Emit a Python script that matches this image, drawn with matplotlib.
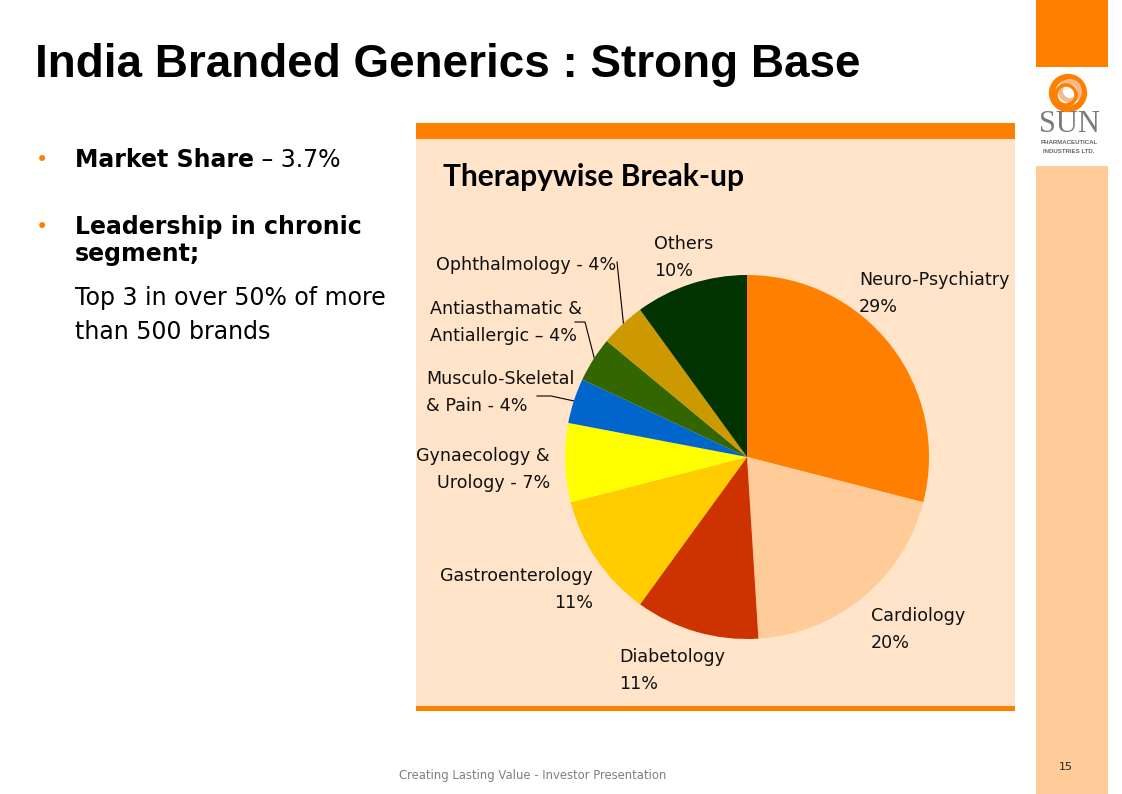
import matplotlib
matplotlib.use("Agg")
import matplotlib.pyplot as plt
from matplotlib.patches import Rectangle, Circle
import matplotlib.transforms as mtrans
import numpy as np

# ---------------- data ----------------
categories = ["Neuro-Psychiatry", "Cardiology", "Diabetology", "Gastroenterology",
              "Gynaecology & Urology", "Musculo-Skeletal & Pain",
              "Antiasthamatic & Antiallergic", "Ophthalmology", "Others"]
shares = [29, 20, 11, 11, 7, 4, 4, 4, 10]
colors = ["#FF8000", "#FFCC99", "#CC3300", "#FFCC00", "#FFFF00",
          "#0066CC", "#336600", "#CC9900", "#003300"]
label_texts = ["Neuro-Psychiatry\n29%", "Cardiology\n20%", "Diabetology\n11%",
               "Gastroenterology\n11%", "Gynaecology &\nUrology - 7%",
               "Musculo-Skeletal\n& Pain - 4%", "Antiasthamatic &\nAntiallergic \u2013 4%",
               "Ophthalmology - 4%", "Others\n10%"]
title = "India Branded Generics : Strong Base"
chart_title = "Therapywise Break-up"
footer = "Creating Lasting Value - Investor Presentation"
page_no = "15"

W, H = 1122, 794
fig = plt.figure(figsize=(W / 100, H / 100), dpi=100)
fig.patch.set_facecolor("white")

bg = fig.add_axes([0, 0, 1, 1])
bg.set_xlim(0, W)
bg.set_ylim(H, 0)
bg.axis("off")

ORANGE = "#FF8000"
PEACH = "#FFCC99"
PANEL = "#FFE4CA"

# sidebar
bg.add_patch(Rectangle((1036, 0), 72, 67, color=ORANGE, lw=0))
bg.add_patch(Rectangle((1036, 166), 72, H - 166, color=PEACH, lw=0))
bg.text(1066, 767, page_no, fontsize=8, ha="center", va="center", color="#222222",
        family="DejaVu Sans")

# logo
bg.add_patch(Circle((1068, 93), 16, fill=False, ec=ORANGE, lw=4.5))
bg.add_patch(Circle((1070, 91), 9.5, fill=False, ec="#F7B98A", lw=3.5))
bg.add_patch(Circle((1066, 95), 10, fill=False, ec=ORANGE, lw=2.5))
bg.text(1069, 125, "SUN", fontsize=22, ha="center", va="center", color="#7a7a7a",
        family="Liberation Serif")
bg.text(1069, 142.5, "PHARMACEUTICAL", fontsize=4.4, fontweight="bold", ha="center",
        va="center", color="#666666", family="Liberation Sans")
bg.text(1069, 151.5, "INDUSTRIES LTD.", fontsize=4.4, fontweight="bold", ha="center",
        va="center", color="#666666", family="Liberation Sans")

# title
bg.text(35, 65, title, fontsize=33, fontweight="bold", ha="left", va="center",
        color="black", family="Liberation Sans")

# bullets
BF = "DejaVu Sans"
BS = 17
bg.text(36, 160, "\u2022", fontsize=15, color=ORANGE, ha="left", va="center", family=BF)
bg.text(36, 227, "\u2022", fontsize=15, color=ORANGE, ha="left", va="center", family=BF)
t1 = bg.text(75, 160, "Market Share", fontsize=BS, fontweight="bold", ha="left",
             va="center", family=BF)
fig.canvas.draw()
r = fig.canvas.get_renderer()
bb = t1.get_window_extent(r)
bg.text(bb.x1, 160, " \u2013 3.7%", fontsize=BS, ha="left", va="center", family=BF,
        transform=mtrans.blended_transform_factory(mtrans.IdentityTransform(), bg.transData))
bg.text(75, 227, "Leadership in chronic", fontsize=BS, fontweight="bold", ha="left",
        va="center", family=BF)
bg.text(75, 254, "segment;", fontsize=BS, fontweight="bold", ha="left",
        va="center", family=BF)
bg.text(75, 298, "Top 3 in over 50% of more", fontsize=BS, ha="left",
        va="center", family=BF)
bg.text(75, 332, "than 500 brands", fontsize=BS, ha="left", va="center", family=BF)

# panel
bg.add_patch(Rectangle((416, 123), 599, 588, color=PANEL, lw=0))
bg.add_patch(Rectangle((416, 123), 599, 16, color=ORANGE, lw=0))
bg.add_patch(Rectangle((416, 706), 599, 5, color=ORANGE, lw=0))
bg.text(443, 177, chart_title, fontsize=21.5, fontweight="bold", ha="left", va="center",
        family="Lato")

# footer
bg.text(399, 775, footer, fontsize=8.4, color="#808080", ha="left", va="center",
        family="DejaVu Sans")

# pie
cx, cy, R = 747, 457, 182
half = 200
pax = fig.add_axes([(cx - half) / W, (H - cy - half) / H, 2 * half / W, 2 * half / H])
lim = half / R
wedges, _ = pax.pie(shares, colors=colors, startangle=90, counterclock=False,
                    radius=1, wedgeprops=dict(linewidth=0))
pax.set_xlim(-lim, lim)
pax.set_ylim(-lim, lim)
pax.axis("off")

LF = "DejaVu Sans"
LS = 12.6
lab_pos = {
    0: (859, 280, "left"),
    1: (871, 616, "left"),
    2: (619, 657, "left"),
    3: (593, 576, "right"),
    4: (550, 456, "right"),
    5: (426, 379, "left"),
    6: (430, 309, "left"),
    7: (436, 265, "left"),
    8: (654, 244, "left"),
}
for i, (x, y, ha) in lab_pos.items():
    lines = label_texts[i].split("\n")
    for k, ln in enumerate(lines):
        bg.text(x, y + 27 * k, ln, fontsize=LS, ha=ha, va="center", family=LF,
                color="#111111")

# leader lines for small slices
def wedge_point(i, rr=1.0):
    w = wedges[i]
    ang = np.deg2rad((w.theta1 + w.theta2) / 2)
    p = pax.transData.transform((rr * np.cos(ang), rr * np.sin(ang)))
    return bg.transData.inverted().transform(p)

leaders = {5: [(537, 396), (551, 396)], 6: [(575, 322), (585, 322)], 7: [(617, 262)]}
for i, pts in leaders.items():
    end = wedge_point(i, 0.99)
    xs = [p[0] for p in pts] + [end[0]]
    ys = [p[1] for p in pts] + [end[1]]
    bg.plot(xs, ys, color="black", lw=0.8)

fig.savefig("out.png", dpi=100)
